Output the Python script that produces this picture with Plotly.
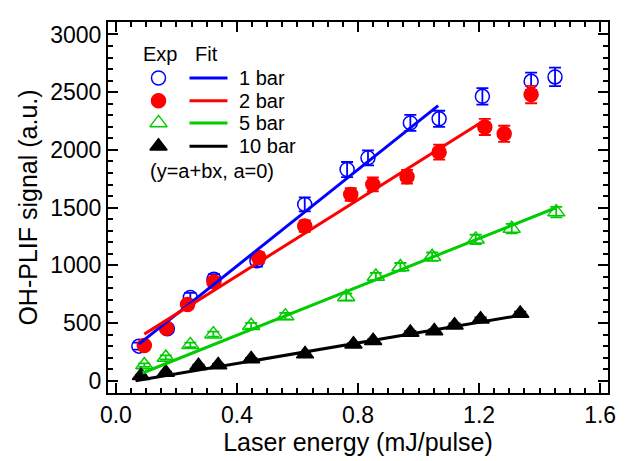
import plotly.graph_objects as go

# ---- data ----
x_1bar = [0.076, 0.170, 0.246, 0.324, 0.466, 0.624, 0.764, 0.833, 0.973, 1.068, 1.211, 1.372, 1.451]
y_1bar = [300, 450, 721, 879, 1040, 1528, 1830, 1931, 2234, 2269, 2464, 2594, 2632]
e_1bar = [30, 35, 40, 45, 50, 60, 65, 65, 70, 70, 72, 75, 80]

x_2bar = [0.094, 0.167, 0.237, 0.324, 0.472, 0.624, 0.776, 0.849, 0.962, 1.068, 1.219, 1.283, 1.372]
y_2bar = [305, 455, 660, 856, 1067, 1340, 1614, 1701, 1767, 1980, 2199, 2139, 2479]
e_2bar = [25, 30, 35, 40, 45, 50, 55, 60, 60, 65, 70, 70, 75]

x_5bar = [0.094, 0.165, 0.246, 0.322, 0.447, 0.560, 0.761, 0.859, 0.940, 1.045, 1.189, 1.308, 1.455]
y_5bar = [136, 202, 311, 404, 476, 560, 726, 903, 986, 1075, 1225, 1318, 1461]
e_5bar = [15, 18, 20, 22, 25, 28, 30, 32, 34, 36, 40, 42, 45]

x_10bar = [0.083, 0.165, 0.273, 0.338, 0.447, 0.625, 0.785, 0.850, 0.973, 1.052, 1.119, 1.205, 1.336]
y_10bar = [43, 72, 130, 136, 188, 231, 317, 346, 418, 432, 482, 533, 583]
e_10bar = [8, 8, 10, 10, 10, 12, 12, 12, 14, 14, 15, 15, 16]

# linear fits y = a + b x, drawn over [xmin, xmax]
fit_a = [158, 249, -25, -29]
fit_b = [2090, 1648, 1048, 446]
fit_xmin = [0.076, 0.094, 0.088, 0.065]
fit_xmax = [1.065, 1.213, 1.454, 1.355]

series_names = ["1 bar", "2 bar", "5 bar", "10 bar"]
colors = ["#0000FF", "#FF0000", "#00CC00", "#000000"]
symbols = ["circle-open", "circle", "triangle-up-open", "triangle-up"]

xs = [x_1bar, x_2bar, x_5bar, x_10bar]
ys = [y_1bar, y_2bar, y_5bar, y_10bar]
es = [e_1bar, e_2bar, e_5bar, e_10bar]

FONT = "Liberation Sans, Arial, sans-serif"

fig = go.Figure()

for i in range(4):
    fig.add_trace(go.Scatter(
        x=xs[i], y=ys[i], mode="markers",
        marker=dict(symbol=symbols[i], size=14 if i < 2 else 15, color=colors[i],
                    line=dict(width=1.5, color=colors[i])),
        error_y=dict(type="data", array=es[i], visible=True, color=colors[i],
                     thickness=1.8, width=6),
        showlegend=False,
    ))
for i in range(4):
    fx = [fit_xmin[i], fit_xmax[i]]
    fy = [fit_a[i] + fit_b[i] * v for v in fx]
    fig.add_trace(go.Scatter(x=fx, y=fy, mode="lines",
                             line=dict(color=colors[i], width=3), showlegend=False))

# ---- custom legend on an overlay axis (0..1 paper-like coords) ----
leg_mx = 0.101
leg_lx = [0.163, 0.239]
leg_rows = [0.849, 0.788, 0.728, 0.665]
for i in range(4):
    fig.add_trace(go.Scatter(x=[leg_mx], y=[leg_rows[i]], xaxis="x2", yaxis="y2",
                             mode="markers",
                             marker=dict(symbol=symbols[i], size=14 if i < 2 else 15,
                                         color=colors[i], line=dict(width=1.5, color=colors[i])),
                             showlegend=False, hoverinfo="skip"))
    fig.add_trace(go.Scatter(x=leg_lx, y=[leg_rows[i]] * 2, xaxis="x2", yaxis="y2",
                             mode="lines", line=dict(color=colors[i], width=3),
                             showlegend=False, hoverinfo="skip"))
    fig.add_annotation(x=0.258, y=leg_rows[i], xref="x2", yref="y2", text=series_names[i],
                       showarrow=False, xanchor="left", yanchor="middle",
                       font=dict(family=FONT, size=20, color="black"))

fig.add_annotation(x=0.1033, y=0.914, xref="x2", yref="y2", text="Exp", showarrow=False,
                   xanchor="center", yanchor="middle", font=dict(family=FONT, size=20, color="black"))
fig.add_annotation(x=0.197, y=0.914, xref="x2", yref="y2", text="Fit", showarrow=False,
                   xanchor="center", yanchor="middle", font=dict(family=FONT, size=20, color="black"))
fig.add_annotation(x=0.0807, y=0.598, xref="x2", yref="y2", text="(y=a+bx, a=0)", showarrow=False,
                   xanchor="left", yanchor="middle", font=dict(family=FONT, size=20, color="black"))

axis_common = dict(
    showline=True, linecolor="black", linewidth=2, mirror="ticks",
    ticks="inside", ticklen=10, tickwidth=2, tickcolor="black",
    showgrid=False, zeroline=False,
    tickfont=dict(family=FONT, size=23, color="black"),
)

fig.update_layout(
    width=627, height=461,
    margin=dict(l=108, r=11, t=22, b=67),
    plot_bgcolor="white", paper_bgcolor="white",
    xaxis=dict(range=[-0.026, 1.626], tickvals=[0.0, 0.4, 0.8, 1.2, 1.6],
               ticktext=["0.0", "0.4", "0.8", "1.2", "1.6"],
               title=dict(text="Laser energy (mJ/pulse)", font=dict(family=FONT, size=25, color="black"),
                          standoff=5),
               minor=dict(ticks="inside", ticklen=5, tickwidth=1.5, tickcolor="black", dtick=0.05,
                          tick0=0, showgrid=False),
               **axis_common),
    yaxis=dict(range=[-106, 3108], tickvals=[0, 500, 1000, 1500, 2000, 2500, 3000],
               title=dict(text="OH-PLIF signal (a.u.)", font=dict(family=FONT, size=25, color="black"),
                          standoff=5),
               minor=dict(ticks="inside", ticklen=5, tickwidth=1.5, tickcolor="black", dtick=100,
                          tick0=0, showgrid=False),
               **axis_common),
    xaxis2=dict(overlaying="x", range=[0, 1], visible=False, domain=[0, 1]),
    yaxis2=dict(overlaying="y", range=[0, 1], visible=False, domain=[0, 1]),
)

fig.write_html("out.html")
